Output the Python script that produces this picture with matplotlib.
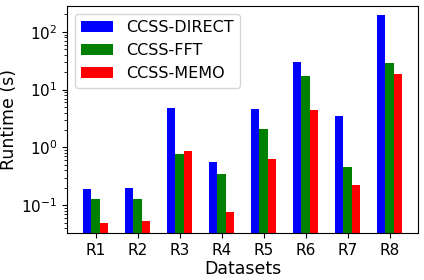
import matplotlib
matplotlib.use("Agg")
import matplotlib.pyplot as plt
import numpy as np

datasets = ["R1", "R2", "R3", "R4", "R5", "R6", "R7", "R8"]
direct = [0.19, 0.197, 4.9, 0.55, 4.7, 29.7, 3.45, 194]
fft = [0.127, 0.127, 0.76, 0.35, 2.05, 17, 0.45, 28.6]
memo = [0.049, 0.053, 0.88, 0.077, 0.62, 4.4, 0.22, 18.5]

fig = plt.figure(figsize=(4.24, 2.8), dpi=100)
ax = fig.add_axes([0.158, 0.168, 0.828, 0.811])
x = np.arange(len(datasets))
w = 0.2
ax.bar(x - w, direct, w, color="blue", label="CCSS-DIRECT")
ax.bar(x, fft, w, color="green", label="CCSS-FFT")
ax.bar(x + w, memo, w, color="red", label="CCSS-MEMO")
ax.set_yscale("log")
ax.set_ylim(0.033, 282)
ax.set_xticks(x)
ax.set_xticklabels(datasets)
ax.tick_params(labelsize=11)
ax.set_xlabel("Datasets", fontsize=12.5, labelpad=2)
ax.set_ylabel("Runtime (s)", fontsize=12.5, labelpad=2)
ax.legend(loc="upper left", fontsize=11.5)
fig.savefig("out.png", dpi=100)
